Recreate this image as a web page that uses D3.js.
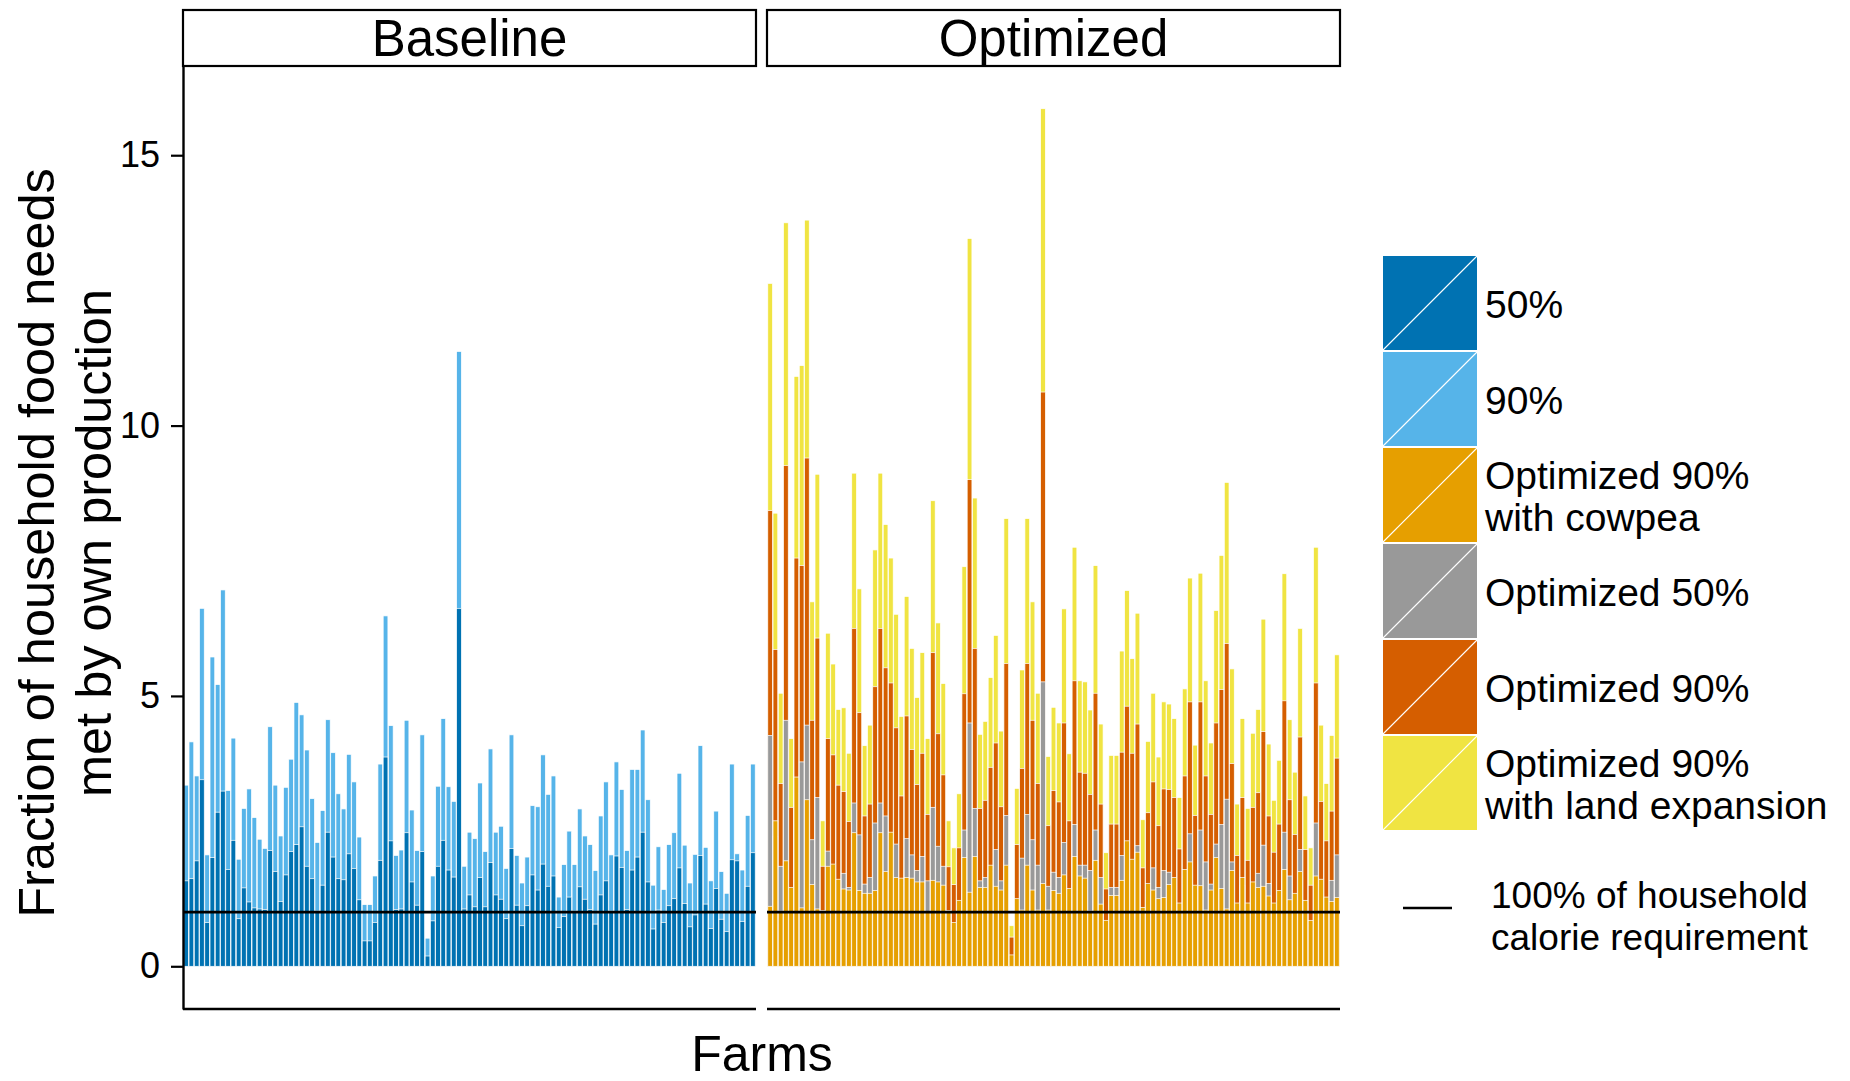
<!DOCTYPE html>
<html>
<head>
<meta charset="utf-8">
<script src="https://cdn.jsdelivr.net/npm/d3@7"></script>
<style>
    body { margin: 0; background: #ffffff; }
    text { font-family: "Liberation Sans", Arial, Helvetica, sans-serif; }
</style>
</head>
<body>
<div class="farm-chart"></div>
<script>

// farm ids (x categories), same farms in both panels
const farms = d3.range(1, 110);

// Baseline panel
const base50 = [1.58, 1.62, 1.95, 3.45, 0.81, 2.01, 2.85, 3.24, 1.79, 2.33,
    0.88, 1.45, 1.19, 1.08, 1.06, 1.05, 2.14, 1.75, 1.2, 1.69,
    2.12, 2.25, 2.58, 1.85, 1.62, 1.02, 1.5, 2.48, 2.02, 1.62,
    1.6, 2.08, 1.81, 1.23, 0.47, 0.47, 0.81, 1.96, 3.87, 2.32,
    1.05, 1.06, 2.47, 1.56, 1.13, 2.12, 0.19, 0.84, 1.85, 2.33,
    1.78, 1.65, 6.62, 1.06, 1.32, 1.1, 1.64, 1.1, 1.92, 1.32,
    1.24, 0.88, 2.18, 1.13, 0.75, 1.12, 1.69, 1.41, 1.89, 1.48,
    1.67, 0.72, 0.92, 1.28, 1.02, 1.47, 1.24, 1.05, 0.78, 1.32,
    1.58, 1.02, 2.04, 1.83, 1.05, 1.78, 2.02, 2.48, 1.56, 0.69,
    1.04, 0.81, 1.12, 1.25, 1.82, 1.16, 0.73, 0.95, 2.05, 1.15,
    0.7, 1.44, 0.87, 0.64, 1.97, 1.95, 0.83, 1.48, 2.1];

const base90 = [3.35, 4.15, 3.52, 6.62, 2.06, 5.72, 5.21, 6.96, 3.25, 4.22,
    1.98, 2.92, 3.28, 2.75, 2.35, 2.18, 4.43, 3.35, 2.41, 3.31,
    3.83, 4.88, 4.65, 4.0, 3.1, 2.29, 2.88, 4.56, 3.95, 3.19,
    2.91, 3.92, 3.41, 2.39, 1.14, 1.14, 1.67, 3.74, 6.48, 4.45,
    2.05, 2.15, 4.55, 2.89, 2.14, 4.28, 0.52, 1.67, 3.33, 4.58,
    3.32, 3.05, 11.37, 1.85, 2.48, 2.36, 3.39, 2.12, 4.02, 2.48,
    2.59, 1.81, 4.28, 2.05, 1.54, 2.02, 2.97, 2.95, 3.91, 3.18,
    3.52, 1.28, 1.88, 2.5, 1.88, 2.91, 2.41, 2.25, 1.77, 2.78,
    3.41, 2.06, 3.78, 3.27, 2.14, 3.64, 3.64, 4.37, 3.08, 1.5,
    2.21, 1.42, 2.25, 2.47, 3.57, 2.24, 1.54, 2.07, 4.08, 2.2,
    1.58, 2.87, 1.75, 1.35, 3.74, 2.08, 1.78, 2.79, 3.74];

// Optimized panel
const optCowpea = [1.11, 2.69, 1.02, 1.95, 1.46, 3.5, 1.08, 3.08, 1.51, 1.06,
    1.03, 1.85, 1.89, 1.61, 1.43, 1.41, 2.47, 1.4, 1.35, 1.35,
    1.4, 2.47, 1.75, 2.48, 1.64, 1.63, 1.64, 1.63, 1.56, 1.56,
    1.0, 1.59, 1.56, 1.5, 1.03, 0.81, 1.22, 2.01, 1.37, 2.03,
    1.46, 1.46, 1.87, 1.48, 1.41, 1.87, 0.21, 1.25, 1.04, 1.87,
    1.41, 1.04, 1.53, 1.04, 1.4, 1.35, 1.69, 1.44, 2.03, 1.67,
    1.63, 1.02, 1.96, 1.15, 0.85, 1.31, 1.31, 1.59, 2.32, 1.98,
    2.11, 1.09, 1.53, 1.41, 1.25, 1.27, 1.51, 1.64, 1.17, 1.79,
    1.93, 1.5, 1.49, 1.04, 1.41, 2.01, 1.44, 1.06, 1.77, 1.17,
    1.64, 1.17, 1.56, 1.46, 1.48, 1.3, 1.17, 1.4, 1.79, 1.23,
    1.35, 1.75, 1.22, 0.85, 1.67, 1.61, 1.28, 1.2, 1.27];

const opt50 = [4.27, 2.4, 1.85, 4.55, 1.3, 3.2, 3.78, 4.46, 2.34, 3.12,
    0.95, 2.13, 1.7, 1.45, 1.72, 1.46, 3.02, 2.43, 1.52, 1.64,
    2.65, 3.02, 2.78, 2.3, 2.26, 1.5, 2.36, 2.06, 1.77, 2.03,
    1.58, 2.94, 2.22, 1.85, 0.95, 0.7, 1.1, 2.52, 4.5, 2.92,
    1.58, 1.64, 1.75, 2.16, 1.58, 2.79, 0.15, 1.1, 2.0, 2.81,
    2.34, 1.87, 5.26, 1.48, 1.74, 1.64, 2.29, 1.3, 2.62, 1.87,
    1.87, 1.77, 2.52, 1.64, 0.75, 1.46, 1.46, 2.05, 2.1, 1.8,
    2.23, 1.0, 1.4, 1.82, 1.46, 1.77, 1.74, 1.5, 1.05, 1.65,
    2.45, 1.4, 2.52, 1.93, 1.52, 2.26, 2.62, 3.09, 1.93, 1.05,
    1.5, 1.05, 1.45, 1.72, 2.24, 1.53, 1.05, 1.3, 2.48, 1.67,
    1.25, 2.16, 1.1, 0.75, 2.65, 1.5, 1.15, 1.59, 2.06];

const opt90 = [8.43, 5.86, 3.38, 9.26, 2.94, 7.55, 7.41, 9.4, 4.55, 6.07,
    1.85, 4.21, 3.91, 3.35, 3.23, 2.68, 6.25, 4.69, 2.78, 3.0,
    5.17, 6.25, 5.52, 5.24, 4.41, 3.15, 4.63, 4.01, 3.36, 3.94,
    2.81, 5.8, 4.3, 3.54, 1.84, 1.51, 2.19, 5.04, 9.0, 5.88,
    2.92, 3.07, 3.68, 4.13, 2.95, 5.6, 0.54, 2.25, 3.66, 5.6,
    4.55, 3.38, 10.62, 2.6, 3.25, 3.04, 4.5, 2.69, 5.28, 3.59,
    3.57, 3.18, 5.05, 3.0, 1.43, 2.63, 2.63, 3.96, 4.81, 3.94,
    4.48, 1.82, 2.84, 3.41, 2.6, 3.28, 3.27, 3.12, 2.17, 3.52,
    4.89, 2.79, 4.89, 3.52, 2.81, 4.5, 5.12, 5.97, 3.75, 2.05,
    3.12, 1.96, 2.94, 3.21, 4.34, 2.78, 2.11, 2.63, 4.91, 3.08,
    2.44, 4.24, 2.16, 1.5, 5.24, 3.05, 2.32, 2.87, 3.85];

const optLand = [12.63, 8.38, 5.05, 13.75, 4.21, 10.91, 11.11, 13.8, 6.74, 9.1,
    2.69, 6.16, 5.59, 4.75, 4.78, 3.94, 9.12, 6.98, 4.08, 4.46,
    7.7, 9.12, 8.17, 7.55, 6.51, 4.62, 6.84, 5.88, 4.97, 5.8,
    4.21, 8.61, 6.35, 5.23, 2.69, 2.19, 3.19, 7.39, 13.46, 8.66,
    4.29, 4.53, 5.34, 6.12, 4.35, 8.28, 0.75, 3.29, 5.48, 8.28,
    6.74, 5.05, 15.86, 3.88, 4.79, 4.5, 6.61, 3.93, 7.75, 5.28,
    5.26, 4.74, 7.41, 4.48, 2.1, 3.9, 3.9, 5.83, 6.95, 5.69,
    6.53, 2.71, 4.16, 5.05, 3.87, 4.89, 4.85, 4.58, 3.12, 5.13,
    7.18, 4.09, 7.27, 5.28, 4.13, 6.58, 7.6, 8.95, 5.5, 3.0,
    4.58, 2.92, 4.31, 4.75, 6.42, 4.11, 3.07, 3.81, 7.26, 4.56,
    3.59, 6.25, 3.15, 2.19, 7.75, 4.46, 3.38, 4.27, 5.76];

const yTicks = [0, 5, 10, 15];
const calorieLine = 1;

const legendLabels = [["50%"], ["90%"], ["Optimized 90%", "with cowpea"], ["Optimized 50%"],
    ["Optimized 90%"], ["Optimized 90%", "with land expansion"]];
const legendColors = ["#0072B2", "#56B4E9", "#E69F00", "#999999", "#D55E00", "#F0E442"];


class FarmChart {

    constructor(parentElement) {
        this.parentElement = parentElement;
        this.initVis();
    }

    initVis() {
        let vis = this;
        vis.width = 1850;
        vis.height = 1081;
        vis.top = 66;
        vis.bottom = 1009;

        vis.svg = d3.select("." + vis.parentElement).append("svg")
            .attr("width", vis.width)
            .attr("height", vis.height);

        // one y scale shared by both facets (ggplot-ish expansion below 0)
        vis.y = d3.scaleLinear()
            .domain([-0.79, 16.65])
            .range([vis.bottom, vis.top]);

        vis.panels = [
            {name: "Baseline", x0: 183, x1: 756},
            {name: "Optimized", x0: 767, x1: 1340}
        ];

        vis.wrangleData();
    }

    wrangleData() {
        let vis = this;

        // bars are overlaid from zero, biggest drawn first
        vis.panels[0].layers = [
            {values: base90, color: legendColors[1]},
            {values: base50, color: legendColors[0]}
        ];
        vis.panels[1].layers = [
            {values: optLand, color: legendColors[5]},
            {values: opt90, color: legendColors[4]},
            {values: opt50, color: legendColors[3]},
            {values: optCowpea, color: legendColors[2]}
        ];

        vis.updateVis();
    }

    updateVis() {
        let vis = this;

        vis.panels.forEach(function (p) {
            let g = vis.svg.append("g");

            let x = d3.scaleBand()
                .domain(farms)
                .range([p.x0, p.x1])
                .paddingInner(0.1)
                .paddingOuter(0.15);

            p.layers.forEach(function (layer) {
                g.selectAll(null)
                    .data(layer.values)
                    .enter()
                    .append("rect")
                    .attr("x", (d, i) => x(farms[i]))
                    .attr("width", x.bandwidth())
                    .attr("y", d => vis.y(d))
                    .attr("height", d => vis.y(0) - vis.y(d))
                    .attr("fill", layer.color)
                    .attr("stroke", "white")
                    .attr("stroke-width", 0.7);
            });

            // 100% calorie line
            g.append("line")
                .attr("x1", p.x0).attr("x2", p.x1)
                .attr("y1", vis.y(calorieLine)).attr("y2", vis.y(calorieLine))
                .attr("stroke", "black")
                .attr("stroke-width", 2.8);

            // bottom axis line, no ticks
            g.append("line")
                .attr("x1", p.x0).attr("x2", p.x1)
                .attr("y1", vis.bottom).attr("y2", vis.bottom)
                .attr("stroke", "black")
                .attr("stroke-width", 2.4);

            // facet strip
            g.append("rect")
                .attr("x", p.x0).attr("y", 10)
                .attr("width", p.x1 - p.x0).attr("height", 56)
                .attr("fill", "white")
                .attr("stroke", "black")
                .attr("stroke-width", 2.2);
            g.append("text")
                .attr("x", (p.x0 + p.x1) / 2)
                .attr("y", 56)
                .attr("text-anchor", "middle")
                .style("font-size", "51px")
                .text(p.name);
        });

        // y axis on the first panel only
        let yAxis = vis.svg.append("g")
            .attr("transform", "translate(183,0)")
            .call(d3.axisLeft(vis.y).tickValues(yTicks).tickSize(12).tickSizeOuter(0).tickPadding(11));
        yAxis.select(".domain").attr("stroke-width", 2.4);
        yAxis.selectAll(".tick line").attr("stroke-width", 2.2);
        yAxis.selectAll(".tick text")
            .style("font-size", "36px")
            .attr("fill", "black")
            .attr("font-family", "Liberation Sans, Arial, sans-serif");

        // axis titles
        vis.svg.append("text")
            .attr("x", 762).attr("y", 1071)
            .attr("text-anchor", "middle")
            .style("font-size", "50px")
            .text("Farms");

        let yTitle = ["Fraction of household food needs", "met by own production"];
        vis.svg.selectAll(".ytitle")
            .data(yTitle).enter()
            .append("text")
            .attr("transform", (d, i) => "translate(" + (54 + i * 57) + ",543) rotate(-90)")
            .attr("text-anchor", "middle")
            .style("font-size", "50.5px")
            .text(d => d);

        vis.drawLegend();
    }

    drawLegend() {
        let vis = this;
        let lg = vis.svg.append("g");
        let keyX = 1383, keyW = 94, keyH = 94, keyTop = 256, step = 96;

        legendColors.forEach(function (c, i) {
            let top = keyTop + i * step;
            lg.append("rect")
                .attr("x", keyX).attr("y", top)
                .attr("width", keyW).attr("height", keyH)
                .attr("fill", c);
            // the little white slash ggplot puts in the key
            lg.append("line")
                .attr("x1", keyX).attr("y1", top + keyH)
                .attr("x2", keyX + keyW).attr("y2", top)
                .attr("stroke", "white").attr("stroke-width", 1.1);

            let cy = top + keyH / 2;
            let lines = legendLabels[i];
            lines.forEach(function (t, j) {
                lg.append("text")
                    .attr("x", 1485)
                    .attr("y", lines.length == 1 ? cy + 15 : cy - 6 + j * 42)
                    .style("font-size", "39px")
                    .text(t);
            });
        });

        lg.append("line")
            .attr("x1", 1403).attr("x2", 1452)
            .attr("y1", 908).attr("y2", 908)
            .attr("stroke", "black").attr("stroke-width", 2.4);
        ["100% of household", "calorie requirement"].forEach(function (t, j) {
            lg.append("text")
                .attr("x", 1491)
                .attr("y", 908 + j * 42)
                .style("font-size", "37px")
                .text(t);
        });
    }
}

let farmChart = new FarmChart("farm-chart");

</script>
</body>
</html>
